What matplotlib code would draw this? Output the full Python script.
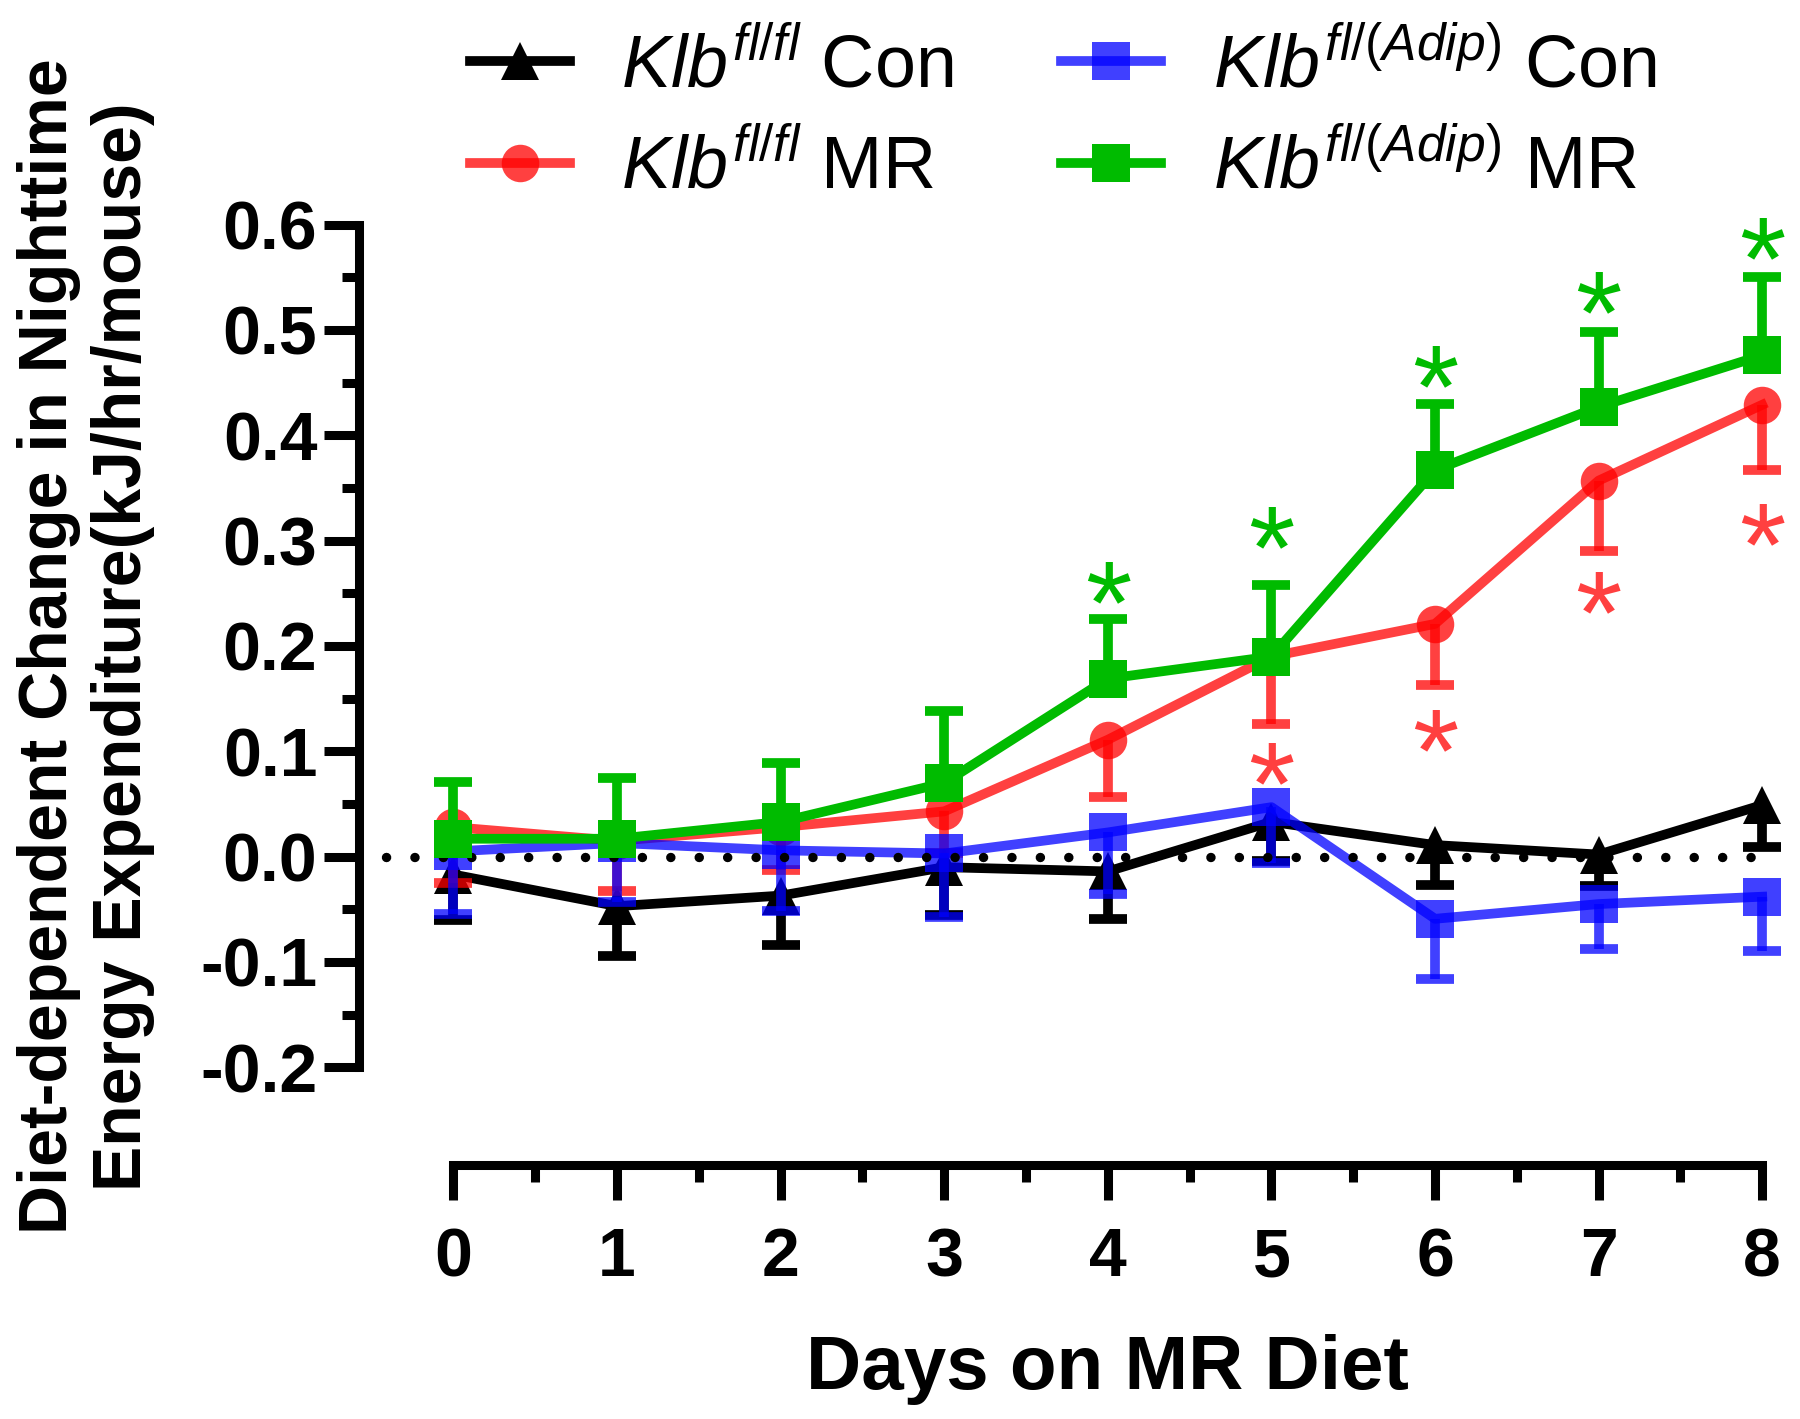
import numpy as np
import matplotlib
matplotlib.use("Agg")
import matplotlib.pyplot as plt
from matplotlib.ticker import FormatStrFormatter

# =======================================================
# Data
# =======================================================

days = [0, 1, 2, 3, 4, 5, 6, 7, 8]

# Klb fl/fl Con (black, error bars below)
con_ff = [-0.017, -0.047, -0.037, -0.010, -0.014, 0.033, 0.011, 0.002, 0.049]
con_ff_err = [0.043, 0.047, 0.047, 0.045, 0.045, 0.037, 0.038, 0.030, 0.040]

# Klb fl/fl MR (red, error bars below)
mr_ff = [0.028, 0.015, 0.028, 0.043, 0.111, 0.190, 0.221, 0.357, 0.429]
mr_ff_err = [0.053, 0.048, 0.041, 0.040, 0.054, 0.064, 0.058, 0.067, 0.062]

# Klb fl/(Adip) Con (blue, error bars below)
con_ad = [0.005, 0.013, 0.006, 0.003, 0.023, 0.047, -0.059, -0.045, -0.038]
con_ad_err = [0.059, 0.056, 0.058, 0.060, 0.058, 0.053, 0.057, 0.043, 0.052]

# Klb fl/(Adip) MR (green, error bars above)
mr_ad = [0.017, 0.017, 0.033, 0.070, 0.169, 0.190, 0.367, 0.427, 0.476]
mr_ad_err = [0.054, 0.058, 0.056, 0.068, 0.057, 0.068, 0.063, 0.071, 0.074]

# significance asterisks
green_star_days = [4, 5, 6, 7, 8]
green_star_y = [0.268, 0.321, 0.473, 0.544, 0.595]
red_star_days = [5, 6, 7, 8]
red_star_y = [0.097, 0.128, 0.259, 0.323]

labels = [r"$Klb^{fl/fl}$ Con", r"$Klb^{fl/fl}$ MR",
          r"$Klb^{fl/(Adip)}$ Con", r"$Klb^{fl/(Adip)}$ MR"]

# =======================================================
# Style
# =======================================================

plt.rcParams["font.family"] = ["Liberation Sans", "DejaVu Sans"]
plt.rcParams["mathtext.fontset"] = "custom"
plt.rcParams["mathtext.rm"] = "Liberation Sans"
plt.rcParams["mathtext.it"] = "Liberation Sans:italic"
plt.rcParams["mathtext.bf"] = "Liberation Sans:bold"
plt.rcParams["axes.unicode_minus"] = False

GREEN = "#00BB00"
LW = 7
MS = 27

fig = plt.figure(figsize=(18, 14.19), dpi=100)
ax = fig.add_axes([0.1994, 0.1788, 0.7978, 0.7000])


def draw_series(y, err, color, marker, side, alpha, z):
    y = np.array(y)
    err = np.array(err)
    zeros = np.zeros_like(err)
    yerr = [err, zeros] if side == "down" else [zeros, err]
    line, caps, bars = ax.errorbar(
        days, y, yerr=yerr, color=color, marker=marker, markersize=MS,
        linewidth=LW, elinewidth=LW, capsize=13.7,
        capthick=LW, alpha=alpha, zorder=z)
    line.set_markeredgewidth(0)
    # drop the zero-length cap that sits on the mean
    for c in caps:
        if np.allclose(c.get_ydata(), y):
            c.remove()
    return line


h1 = draw_series(con_ff, con_ff_err, "black", "^", "down", 1.0, 2)
h2 = draw_series(mr_ff, mr_ff_err, "red", "o", "down", 0.75, 3)
h3 = draw_series(con_ad, con_ad_err, "blue", "s", "down", 0.75, 4)
h4 = draw_series(mr_ad, mr_ad_err, GREEN, "s", "up", 1.0, 6)

# dotted zero line
ax.axhline(0, xmin=0.019, xmax=0.985, color="black", linewidth=6.8,
           linestyle=(0, (0.01, 3.0)), dash_capstyle="round", zorder=5)

STAR_FS = 86
for d, s in zip(green_star_days, green_star_y):
    ax.annotate("*", xy=(d, s), xytext=(0, -0.58 * STAR_FS), textcoords="offset points",
                ha="center", va="baseline", fontsize=STAR_FS, color=GREEN,
                annotation_clip=False, zorder=7)
for d, s in zip(red_star_days, red_star_y):
    ax.annotate("*", xy=(d, s), xytext=(0, -0.58 * STAR_FS), textcoords="offset points",
                ha="center", va="baseline", fontsize=STAR_FS, color="red", alpha=0.75,
                annotation_clip=False, zorder=7)

# =======================================================
# Axes
# =======================================================

ax.set_xlim(-0.578, 8.2)
ax.set_ylim(-0.293, 0.65)

for side in ["top", "right"]:
    ax.spines[side].set_visible(False)
ax.spines["left"].set_linewidth(6.5)
ax.spines["bottom"].set_linewidth(6.5)
ax.spines["left"].set_bounds(-0.2, 0.6)
ax.spines["bottom"].set_bounds(0, 8)

ax.set_yticks(np.arange(-0.2, 0.61, 0.1))
ax.set_yticks(np.arange(-0.15, 0.6, 0.1), minor=True)
ax.yaxis.set_major_formatter(FormatStrFormatter("%.1f"))
ax.set_xticks(days)
ax.set_xticks(np.arange(0.5, 8, 1), minor=True)

ax.tick_params(which="major", direction="out", length=25, width=6.5)
ax.tick_params(which="minor", direction="out", length=12.5, width=6.5)
ax.tick_params(axis="y", which="major", pad=5)
ax.tick_params(axis="x", which="major", pad=19)
for t in ax.get_xticklabels() + ax.get_yticklabels():
    t.set_fontsize(49)
    t.set_fontweight("bold")

ax.set_xlabel("Days on MR Diet", fontsize=55, fontweight="bold")
ax.xaxis.set_label_coords(0.521, -0.170)
ax.set_ylabel("Diet-dependent Change in Nighttime\nEnergy Expenditure(kJ/hr/mouse)",
              fontsize=49, fontweight="bold")
ax.yaxis.set_label_coords(-0.142, 0.5223)

fig.legend([h1, h2, h3, h4], labels, ncol=2, loc="upper left",
           bbox_to_anchor=(0.261, 0.977), frameon=False, fontsize=53,
           handlelength=1.36, handletextpad=0.7, columnspacing=1.46,
           labelspacing=0.43, borderpad=0, borderaxespad=0)

fig.savefig("out.png", dpi=100)
